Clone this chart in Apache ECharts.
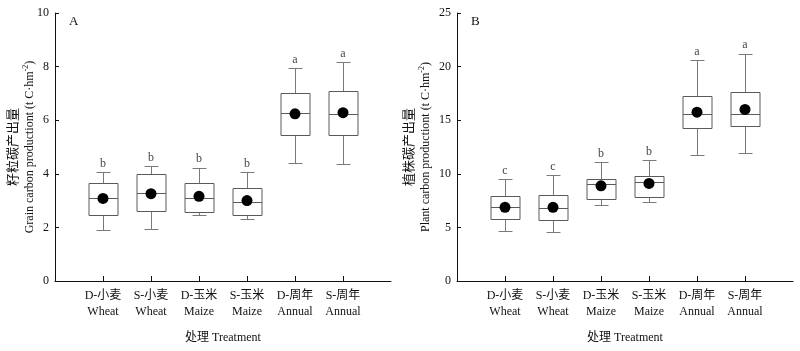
<!DOCTYPE html>
<html><head><meta charset="utf-8">
<script src="https://cdn.jsdelivr.net/npm/echarts@6/dist/echarts.min.js"></script>
<style>html,body{margin:0;padding:0;background:#fff}#c{width:800px;height:351px}</style>
</head><body><div id="c"></div>
<script>
const categoriesTop = ['D-小麦','S-小麦','D-玉米','S-玉米','D-周年','S-周年'];
const categoriesBottom = ['Wheat','Wheat','Maize','Maize','Annual','Annual'];
const categoryPos = [1,2,3,4,5,6];
// Panel A: grain carbon production
const grainMin = [1.91,1.95,2.46,2.30,4.42,4.37];
const grainQ1 = [2.48,2.62,2.59,2.48,5.46,5.46];
const grainMedian = [3.10,3.29,3.10,2.94,6.26,6.22];
const grainQ3 = [3.66,3.99,3.66,3.47,7.00,7.08];
const grainMax = [4.07,4.28,4.23,4.07,7.95,8.16];
const grainMean = [3.08,3.26,3.16,3.00,6.24,6.28];
const grainLetters = ['b','b','b','b','a','a'];
// Panel B: plant carbon production
const plantMin = [4.63,4.54,7.08,7.33,11.71,11.90];
const plantQ1 = [5.75,5.68,7.64,7.83,14.23,14.42];
const plantMedian = [6.87,6.77,9.01,9.20,15.59,15.59];
const plantQ3 = [7.92,7.98,9.54,9.82,17.27,17.59];
const plantMax = [9.51,9.88,11.06,11.28,20.60,21.22];
const plantMean = [6.87,6.87,8.88,9.10,15.75,16.00];
const plantLetters = ['c','c','b','b','a','a'];
const yRangeA = [0,10,2];
const yRangeB = [0,25,5];

const FONT = '"Liberation Serif","Noto Sans CJK SC",serif';
const boxRows = (mn,q1,md,q3,mx) => categoryPos.map((x,i)=>[x,mn[i],q1[i],md[i],q3[i],mx[i]]);
const pts = (vals) => categoryPos.map((x,i)=>[x,vals[i]]);

function renderBox(params, api){
  const x = api.value(0);
  const pMin = api.coord([x, api.value(1)]);
  const pQ1 = api.coord([x, api.value(2)]);
  const pMed = api.coord([x, api.value(3)]);
  const pQ3 = api.coord([x, api.value(4)]);
  const pMax = api.coord([x, api.value(5)]);
  const cx = Math.round(pMin[0]) + 0.5;
  const hw = 14.5, cw = 7;
  const r = v => Math.round(v) + 0.5;
  const ws = {stroke:'#7a7a7a', lineWidth:1};
  const bs = {stroke:'#5a5a5a', lineWidth:1};
  return {type:'group', children:[
    {type:'line', shape:{x1:cx,y1:r(pMax[1]),x2:cx,y2:r(pQ3[1])}, style:ws},
    {type:'line', shape:{x1:cx,y1:r(pQ1[1]),x2:cx,y2:r(pMin[1])}, style:ws},
    {type:'line', shape:{x1:cx-cw,y1:r(pMax[1]),x2:cx+cw,y2:r(pMax[1])}, style:ws},
    {type:'line', shape:{x1:cx-cw,y1:r(pMin[1]),x2:cx+cw,y2:r(pMin[1])}, style:ws},
    {type:'rect', shape:{x:cx-hw,y:r(pQ3[1]),width:2*hw,height:r(pQ1[1])-r(pQ3[1])}, style:{fill:'#fff',stroke:'#5a5a5a',lineWidth:1}},
    {type:'line', shape:{x1:cx-hw,y1:r(pMed[1]),x2:cx+hw,y2:r(pMed[1])}, style:bs}
  ]};
}

function xAxis(gi){
  return {
    type:'value', gridIndex:gi, min:0, max:7,
    axisLine:{show:true, onZero:false, lineStyle:{color:'#111', width:1}},
    axisTick:{show:true, inside:true, length:5, customValues:categoryPos, lineStyle:{color:'#111'}},
    axisLabel:{customValues:categoryPos, margin:7, lineHeight:16, color:'#111', fontSize:12, fontFamily:FONT,
      formatter:v => categoriesTop[v-1] + '\n' + categoriesBottom[v-1]},
    splitLine:{show:false},
    name:'处理 Treatment', nameLocation:'middle', nameGap:51, nameMoveOverlap:false,
    nameTextStyle:{color:'#111', fontSize:12, fontFamily:FONT}
  };
}
function yAxis(gi, rng, cn, en, gap){
  return {
    type:'value', gridIndex:gi, min:rng[0], max:rng[1], interval:rng[2],
    axisLine:{show:true, lineStyle:{color:'#111', width:1}},
    axisTick:{show:true, inside:true, length:4, lineStyle:{color:'#111'}},
    axisLabel:{margin:6, color:'#111', fontSize:12, fontFamily:FONT},
    splitLine:{show:false},
    name:'{cn|' + cn + '}\n{en|' + en + ' (t C·hm}{sup|-2}{en|)}',
    nameLocation:'middle', nameGap:gap, nameRotate:90, nameMoveOverlap:false,
    nameTextStyle:{color:'#111', fontFamily:FONT, lineHeight:16,
      rich:{
        cn:{fontSize:13, fontFamily:FONT, color:'#111', lineHeight:16},
        en:{fontSize:12, fontFamily:FONT, color:'#111', lineHeight:16},
        sup:{fontSize:8, fontFamily:FONT, color:'#111', verticalAlign:'top', lineHeight:16}
      }}
  };
}
function seriesFor(gi, rows, mean, maxv, letters){
  return [
    {type:'custom', xAxisIndex:gi, yAxisIndex:gi, renderItem:renderBox, data:rows,
     encode:{x:0, y:[1,2,3,4,5]}, z:2},
    {type:'scatter', xAxisIndex:gi, yAxisIndex:gi, data:pts(mean), symbol:'circle', symbolSize:11,
     itemStyle:{color:'#000', opacity:1}, z:4},
    {type:'scatter', xAxisIndex:gi, yAxisIndex:gi, data:pts(maxv), symbol:'circle', symbolSize:1,
     itemStyle:{color:'rgba(0,0,0,0)'}, z:4,
     label:{show:true, position:'top', distance:2, color:'#111', fontSize:12, fontFamily:FONT,
       formatter:p => letters[p.dataIndex]}}
  ];
}

const chart = echarts.init(document.getElementById('c'), null, {renderer:'canvas'});
chart.setOption({
  animation:false,
  backgroundColor:'#fff',
  textStyle:{fontFamily:FONT},
  grid:[
    {left:55, right:409, top:13, bottom:70, containLabel:false, outerBoundsMode:'none'},
    {left:457, right:7, top:13, bottom:70, containLabel:false, outerBoundsMode:'none'}
  ],
  xAxis:[xAxis(0), xAxis(1)],
  yAxis:[
    yAxis(0, yRangeA, '籽粒碳产出量', 'Grain carbon productiont', 17),
    yAxis(1, yRangeB, '植株碳产出量', 'Plant carbon productiont', 23)
  ],
  graphic:[
    {type:'text', left:69, top:15, style:{text:'A', fontSize:13, fontFamily:FONT, fill:'#111'}},
    {type:'text', left:471, top:15, style:{text:'B', fontSize:13, fontFamily:FONT, fill:'#111'}}
  ],
  series:[
    ...seriesFor(0, boxRows(grainMin,grainQ1,grainMedian,grainQ3,grainMax), grainMean, grainMax, grainLetters),
    ...seriesFor(1, boxRows(plantMin,plantQ1,plantMedian,plantQ3,plantMax), plantMean, plantMax, plantLetters)
  ]
});
</script></body></html>
